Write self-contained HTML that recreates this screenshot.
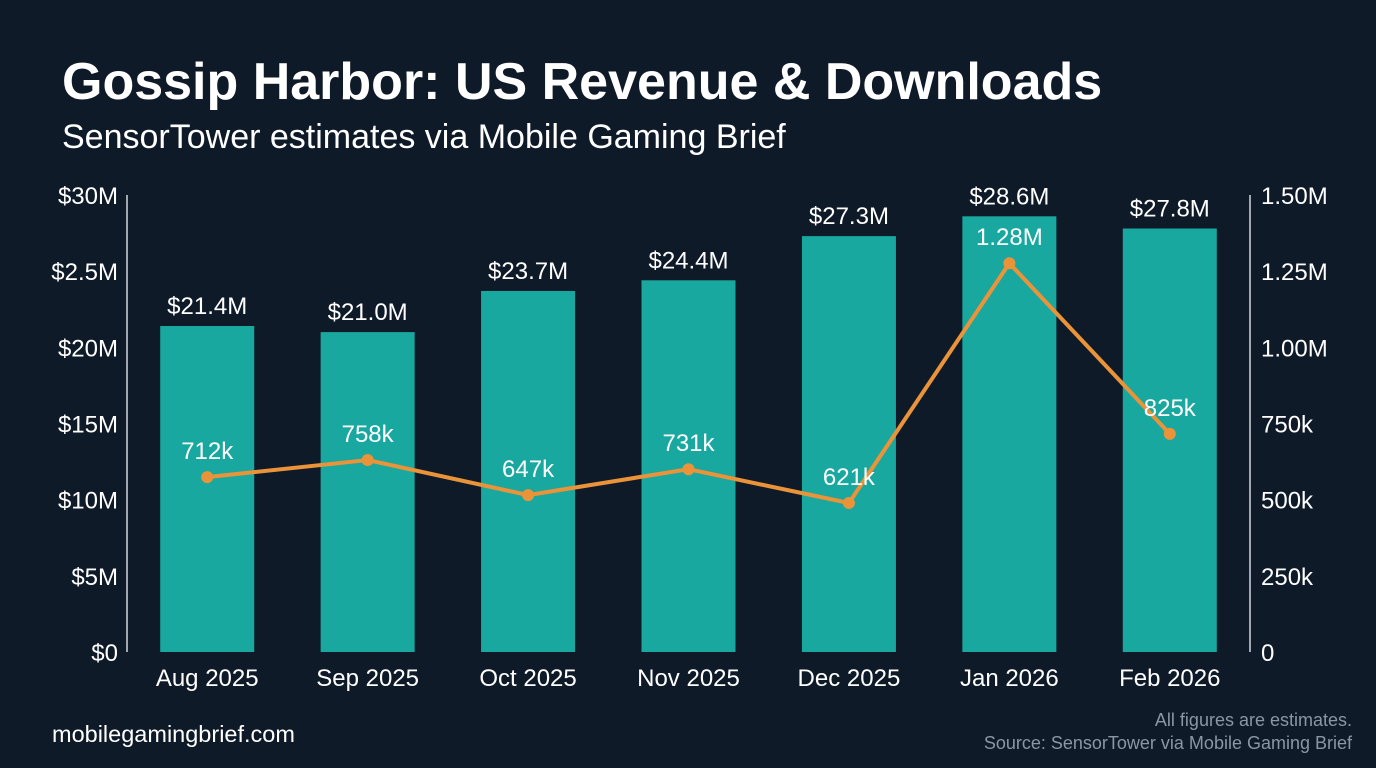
<!DOCTYPE html>
<html><head><meta charset="utf-8"><style>
html,body{margin:0;padding:0;background:#0f1a29;}
svg{display:block;font-family:"Liberation Sans",sans-serif;}
</style></head><body>
<svg id="c" width="1376" height="768" viewBox="0 0 1376 768">
<rect width="1376" height="768" fill="#0f1a29"/>
<text x="62" y="99" font-size="52" font-weight="bold" fill="#ffffff">Gossip Harbor: US Revenue &amp; Downloads</text>
<text x="62" y="148" font-size="34" fill="#ffffff">SensorTower estimates via Mobile Gaming Brief</text>
<text x="52" y="742" font-size="23.5" fill="#ffffff">mobilegamingbrief.com</text>
<text x="1352" y="726" font-size="18" fill="#8b95a3" text-anchor="end">All figures are estimates.</text>
<text x="1352" y="749" font-size="18" fill="#8b95a3" text-anchor="end">Source: SensorTower via Mobile Gaming Brief</text>
<g id="plot"></g>
</svg>
<script>
const categories=["Aug 2025","Sep 2025","Oct 2025","Nov 2025","Dec 2025","Jan 2026","Feb 2026"];
const revenue=[21.4,21.0,23.7,24.4,27.3,28.6,27.8];
const revenueLabels=["$21.4M","$21.0M","$23.7M","$24.4M","$27.3M","$28.6M","$27.8M"];
const downloads=[574,630,515,600,489,1276,716];
const downloadLabels=["712k","758k","647k","731k","621k","1.28M","825k"];
const leftTicks=[0,5,10,15,20,25,30];
const leftTickLabels=["$0","$5M","$10M","$15M","$20M","$2.5M","$30M"];
const rightTicks=[0,250,500,750,1000,1250,1500];
const rightTickLabels=["0","250k","500k","750k","1.00M","1.25M","1.50M"];

const NS="http://www.w3.org/2000/svg";
const g=document.getElementById('plot');
const X0=127,X1=1250,Y0=652,Y1=195;
const step=(X1-X0)/categories.length;
const xC=i=>X0+step*(i+0.5);
const yL=v=>Y0-(v/30)*(Y0-Y1);
const yR=v=>Y0-(v/1500)*(Y0-Y1);
function mk(tag,attrs,text){const e=document.createElementNS(NS,tag);for(const k in attrs)e.setAttribute(k,attrs[k]);if(text!==undefined)e.textContent=text;g.appendChild(e);return e;}

let a=mk('line',{x1:X0,x2:X0,y1:Y1,y2:Y0,stroke:'#d0d6de','stroke-width':1.5});


a=mk('line',{x1:X1,x2:X1,y1:Y1,y2:Y0,stroke:'#d0d6de','stroke-width':1.5});



leftTicks.forEach((t,i)=>{
  const e=mk('text',{x:118,y:yL(t)+9,'font-size':24,fill:'#fff','text-anchor':'end'},leftTickLabels[i]);
  
  
});
rightTicks.forEach((t,i)=>{
  const e=mk('text',{x:1261,y:yR(t)+9,'font-size':24,fill:'#fff','text-anchor':'start'},rightTickLabels[i]);
  
  
});

const bw=94;
revenue.forEach((v,i)=>{
  const r=mk('rect',{x:xC(i)-bw/2,y:yL(v),width:bw,height:Y0-yL(v),fill:'#19a8a0'});
  
  
  const t=mk('text',{x:xC(i),y:yL(v)-12,'font-size':24,fill:'#fff','text-anchor':'middle'},revenueLabels[i]);
  
  
  const c=mk('text',{x:xC(i),y:686,'font-size':24,fill:'#fff','text-anchor':'middle'},categories[i]);
  
  
});

const pts=downloads.map((v,i)=>xC(i)+','+yR(v)).join(' ');
const pl=mk('polyline',{points:pts,fill:'none',stroke:'#ea9339','stroke-width':4,'stroke-linejoin':'round'});


downloads.forEach((v,i)=>{
  const c=mk('circle',{cx:xC(i),cy:yR(v),r:6,fill:'#ea9339'});
  
  
  const t=mk('text',{x:xC(i),y:yR(v)-18,'font-size':24,fill:'#fff','text-anchor':'middle'},downloadLabels[i]);
  
  
});
</script>
</body></html>
